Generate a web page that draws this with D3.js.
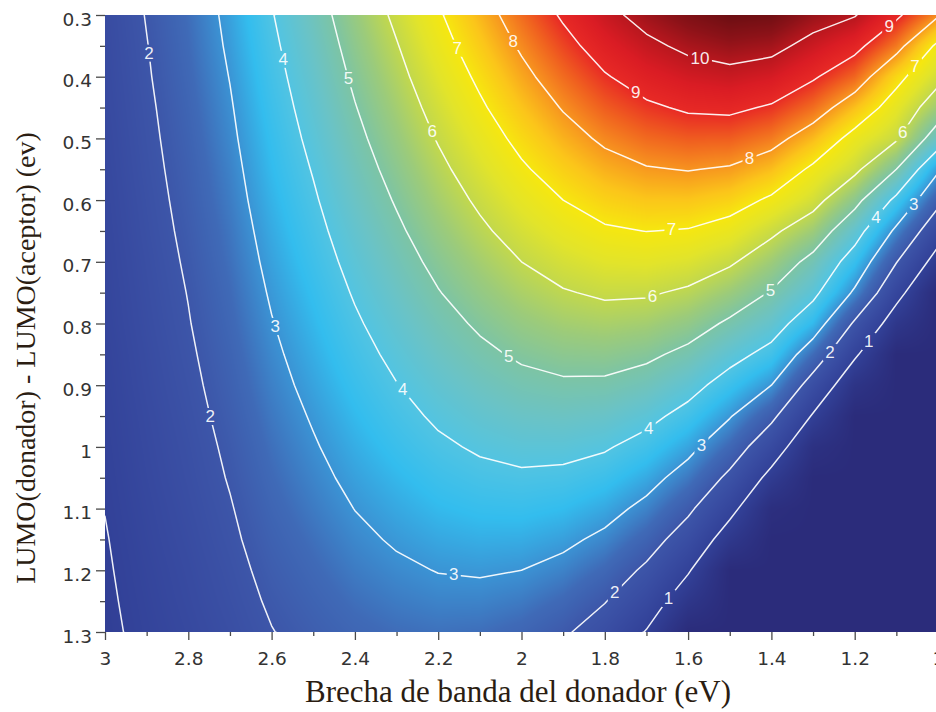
<!DOCTYPE html>
<html>
<head>
<meta charset="utf-8">
<script src="https://cdn.jsdelivr.net/npm/d3@7"></script>
<style>
  html, body { margin: 0; padding: 0; background: #ffffff; overflow: hidden; }
  svg { display: block; }
</style>
</head>
<body>
<svg id="chart" width="936" height="712"></svg>
<script>
// Donor band gap (eV), one grid column each, left to right on the x axis
const bandGap = [3.0, 2.9, 2.8, 2.7, 2.6, 2.5, 2.4, 2.3, 2.2, 2.1, 2.0, 1.9, 1.8, 1.7, 1.6, 1.5, 1.4, 1.3, 1.2, 1.1, 1.0];

// LUMO(donor) - LUMO(acceptor) offset (eV), one grid row each, top to bottom
const lumoOffset = [0.30, 0.35, 0.40, 0.45, 0.50, 0.55, 0.60, 0.65, 0.70, 0.75, 0.80, 0.85, 0.90, 0.95, 1.00, 1.05, 1.10, 1.15, 1.20, 1.25, 1.30];

// Power conversion efficiency (%) : efficiency[row][column]
const efficiency = [
  [1.51, 2.03, 2.54, 3.17, 3.96, 4.66, 5.42, 6.15, 6.91, 7.65, 8.40, 9.10, 9.76, 10.29, 10.70, 10.98, 10.90, 10.37, 10.05, 9.15, 8.08],
  [1.48, 1.98, 2.49, 3.10, 3.86, 4.53, 5.27, 5.96, 6.70, 7.40, 8.10, 8.75, 9.35, 9.82, 10.17, 10.37, 10.24, 9.73, 9.23, 8.28, 6.83],
  [1.45, 1.94, 2.43, 3.02, 3.76, 4.41, 5.12, 5.78, 6.48, 7.14, 7.80, 8.40, 8.94, 9.35, 9.63, 9.76, 9.58, 9.09, 8.46, 7.24, 6.24],
  [1.42, 1.89, 2.37, 2.94, 3.66, 4.29, 4.97, 5.60, 6.26, 6.89, 7.50, 8.05, 8.54, 8.88, 9.10, 9.15, 8.92, 8.39, 7.56, 6.61, 5.52],
  [1.38, 1.85, 2.31, 2.87, 3.56, 4.17, 4.82, 5.42, 6.05, 6.63, 7.20, 7.70, 8.13, 8.42, 8.56, 8.54, 8.26, 7.62, 6.73, 6.10, 4.51],
  [1.35, 1.81, 2.25, 2.79, 3.47, 4.04, 4.67, 5.24, 5.83, 6.38, 6.90, 7.35, 7.72, 7.95, 8.03, 7.93, 7.58, 6.86, 6.18, 5.00, 3.11],
  [1.32, 1.76, 2.20, 2.72, 3.37, 3.92, 4.52, 5.06, 5.62, 6.12, 6.60, 7.00, 7.32, 7.48, 7.49, 7.32, 6.88, 6.28, 5.27, 3.80, 2.22],
  [1.29, 1.72, 2.14, 2.64, 3.27, 3.80, 4.36, 4.88, 5.40, 5.87, 6.30, 6.65, 6.91, 7.01, 6.96, 6.71, 6.15, 5.53, 4.36, 2.84, 1.38],
  [1.26, 1.67, 2.08, 2.57, 3.17, 3.68, 4.21, 4.70, 5.18, 5.61, 6.00, 6.30, 6.50, 6.55, 6.42, 6.10, 5.53, 4.76, 3.60, 2.03, 0.65],
  [1.23, 1.63, 2.02, 2.49, 3.07, 3.55, 4.06, 4.52, 4.97, 5.36, 5.70, 5.95, 6.10, 6.08, 5.89, 5.49, 4.95, 4.20, 2.88, 1.27, 0.00],
  [1.20, 1.59, 1.97, 2.42, 2.97, 3.43, 3.91, 4.34, 4.75, 5.10, 5.40, 5.60, 5.69, 5.61, 5.35, 4.88, 4.38, 3.46, 1.89, 0.56, 0.00],
  [1.16, 1.54, 1.91, 2.34, 2.87, 3.31, 3.76, 4.16, 4.54, 4.85, 5.10, 5.25, 5.28, 5.14, 4.82, 4.27, 3.75, 2.52, 1.11, 0.00, 0.00],
  [1.13, 1.50, 1.85, 2.27, 2.77, 3.19, 3.61, 3.98, 4.32, 4.59, 4.80, 4.90, 4.88, 4.68, 4.28, 3.66, 3.00, 1.64, 0.41, 0.00, 0.00],
  [1.10, 1.45, 1.79, 2.19, 2.67, 3.06, 3.46, 3.80, 4.10, 4.34, 4.50, 4.55, 4.47, 4.21, 3.75, 3.05, 2.17, 0.93, 0.00, 0.00, 0.00],
  [1.07, 1.41, 1.73, 2.11, 2.57, 2.94, 3.31, 3.62, 3.89, 4.08, 4.20, 4.20, 4.07, 3.74, 3.21, 2.44, 1.45, 0.27, 0.00, 0.00, 0.00],
  [1.04, 1.37, 1.68, 2.04, 2.48, 2.82, 3.16, 3.43, 3.67, 3.83, 3.90, 3.85, 3.66, 3.27, 2.68, 1.83, 0.76, 0.00, 0.00, 0.00, 0.00],
  [1.01, 1.32, 1.62, 1.96, 2.38, 2.70, 3.01, 3.25, 3.46, 3.57, 3.60, 3.50, 3.25, 2.81, 2.14, 1.22, 0.15, 0.00, 0.00, 0.00, 0.00],
  [0.97, 1.28, 1.56, 1.89, 2.28, 2.57, 2.86, 3.07, 3.24, 3.32, 3.30, 3.15, 2.85, 2.34, 1.61, 0.61, 0.00, 0.00, 0.00, 0.00, 0.00],
  [0.94, 1.23, 1.50, 1.81, 2.18, 2.45, 2.71, 2.89, 3.02, 3.06, 3.00, 2.80, 2.44, 1.87, 1.07, 0.00, 0.00, 0.00, 0.00, 0.00, 0.00],
  [0.91, 1.19, 1.45, 1.74, 2.08, 2.33, 2.56, 2.71, 2.81, 2.81, 2.70, 2.45, 2.03, 1.42, 0.54, 0.00, 0.00, 0.00, 0.00, 0.00, 0.00],
  [0.88, 1.15, 1.39, 1.66, 1.98, 2.21, 2.41, 2.53, 2.59, 2.55, 2.40, 2.10, 1.63, 0.96, 0.00, 0.00, 0.00, 0.00, 0.00, 0.00, 0.00]
];

// Iso-efficiency levels drawn as white lines
const contourLevels = [1, 2, 3, 4, 5, 6, 7, 8, 9, 10];

// Where each inline contour label sits: [level, band gap, LUMO offset]
const labelAnchors = [
  [2, 2.897, 0.362], [4, 2.580, 0.373], [5, 2.424, 0.405], [6, 2.220, 0.491],
  [7, 2.164, 0.357], [8, 2.023, 0.344], [9, 1.732, 0.433], [10, 1.571, 0.368],
  [9, 1.110, 0.324], [8, 1.451, 0.535], [7, 1.640, 0.648], [7, 1.055, 0.384],
  [6, 1.103, 0.483], [6, 1.684, 0.759], [5, 1.403, 0.746], [4, 1.151, 0.627],
  [3, 1.062, 0.605], [5, 2.035, 0.859], [3, 2.597, 0.806], [4, 2.292, 0.911],
  [2, 2.755, 0.952], [4, 1.691, 0.973], [3, 1.564, 1.000], [2, 1.267, 0.843],
  [1, 1.180, 0.822], [3, 2.164, 1.216], [2, 1.771, 1.240], [1, 1.643, 1.248]
];

const xTickValues = [3, 2.8, 2.6, 2.4, 2.2, 2, 1.8, 1.6, 1.4, 1.2, 1];
const xMinorTicks = [2.9, 2.7, 2.5, 2.3, 2.1, 1.9, 1.7, 1.5, 1.3, 1.1];
const yTickValues = [0.3, 0.4, 0.5, 0.6, 0.7, 0.8, 0.9, 1, 1.1, 1.2, 1.3];
const yMinorTicks = [0.35, 0.45, 0.55, 0.65, 0.75, 0.85, 0.95, 1.05, 1.15, 1.25];

const xTitle = "Brecha de banda del donador (eV)";
const yTitle = "LUMO(donador) - LUMO(aceptor) (ev)";

// ---- layout and styling ----
const W = 936, H = 712;
const plot = { left: 105, top: 15, right: 938, bottom: 632 };

// jet-like colour ramp for the efficiency field
const rampValues = [0, 0.5, 1, 1.5, 2, 2.5, 3, 3.5, 4, 4.5, 5, 5.5, 6, 6.5, 7, 7.5, 8, 8.5, 9, 9.5, 10, 10.5, 11];
const rampColours = ['#2b2c7b', '#2e3689', '#324198', '#384ba1', '#3d56a9', '#3f6ab7', '#3b93d4', '#33bdee',
                     '#52c4e2', '#6ac3c6', '#7dc4a4', '#9ccb7a', '#c2d84c', '#e2e42a', '#f6e70f', '#fbc51a',
                     '#f7951f', '#f0611f', '#e82a25', '#da1c24', '#b8171e', '#8c1218', '#6a0e12'];

const x = d3.scaleLinear().domain([3, 1]).range([plot.left, plot.right]);
const y = d3.scaleLinear().domain([0.3, 1.3]).range([plot.top, plot.bottom]);
const colour = d3.scaleLinear().domain(rampValues).range(rampColours)
  .interpolate(d3.interpolateRgb).clamp(true);

const nx = bandGap.length, ny = lumoOffset.length;
const stepX = bandGap[1] - bandGap[0];
const stepY = lumoOffset[1] - lumoOffset[0];

// bilinear lookup in the efficiency grid
function fieldAt(eg, off) {
  let gi = (eg - bandGap[0]) / stepX;
  let gj = (off - lumoOffset[0]) / stepY;
  gi = Math.max(0, Math.min(nx - 1, gi));
  gj = Math.max(0, Math.min(ny - 1, gj));
  const i0 = Math.min(nx - 2, Math.floor(gi)), j0 = Math.min(ny - 2, Math.floor(gj));
  const fx = gi - i0, fy = gj - j0;
  const a = efficiency[j0][i0], b = efficiency[j0][i0 + 1];
  const c = efficiency[j0 + 1][i0], d = efficiency[j0 + 1][i0 + 1];
  return (a * (1 - fx) + b * fx) * (1 - fy) + (c * (1 - fx) + d * fx) * fy;
}

const svg = d3.select('#chart');
svg.append('rect').attr('width', W).attr('height', H).attr('fill', '#ffffff');

const defs = svg.append('defs');
defs.append('clipPath').attr('id', 'plot-clip')
  .append('rect')
  .attr('x', plot.left).attr('y', plot.top)
  .attr('width', plot.right - plot.left).attr('height', plot.bottom - plot.top);

// ---- colour field painted into a canvas, then placed in the svg ----
const pw = Math.round(plot.right - plot.left), ph = Math.round(plot.bottom - plot.top);
const canvas = document.createElement('canvas');
canvas.width = pw; canvas.height = ph;
const ctx = canvas.getContext('2d');
const img = ctx.createImageData(pw, ph);
for (let py = 0; py < ph; py++) {
  const off = y.invert(plot.top + py + 0.5);
  for (let px = 0; px < pw; px++) {
    const eg = x.invert(plot.left + px + 0.5);
    const c = d3.rgb(colour(fieldAt(eg, off)));
    const k = (py * pw + px) * 4;
    img.data[k] = c.r; img.data[k + 1] = c.g; img.data[k + 2] = c.b; img.data[k + 3] = 255;
  }
}
ctx.putImageData(img, 0, 0);

const plotLayer = svg.append('g').attr('clip-path', 'url(#plot-clip)');
plotLayer.append('image')
  .attr('x', plot.left).attr('y', plot.top)
  .attr('width', pw).attr('height', ph)
  .attr('preserveAspectRatio', 'none')
  .attr('href', canvas.toDataURL());

// ---- iso-efficiency lines ----
const flat = efficiency.flat();
const contours = d3.contours().size([nx, ny]).thresholds(contourLevels)(flat);
const toPx = ([cx, cy]) => [
  x(bandGap[0] + (cx - 0.5) * stepX),
  y(lumoOffset[0] + (cy - 0.5) * stepY)
];
const ringsByLevel = new Map();
contours.forEach(c => {
  const rings = [];
  c.coordinates.forEach(poly => poly.forEach(ring => rings.push(ring.map(toPx))));
  ringsByLevel.set(c.value, rings);
});

// place each label on the nearest point of its contour
function nearestOnRings(rings, p) {
  let best = null, bestD = Infinity;
  rings.forEach(r => {
    for (let i = 0; i < r.length - 1; i++) {
      const a = r[i], b = r[i + 1];
      const dx = b[0] - a[0], dy = b[1] - a[1];
      const L = dx * dx + dy * dy;
      let t = L > 0 ? ((p[0] - a[0]) * dx + (p[1] - a[1]) * dy) / L : 0;
      t = Math.max(0, Math.min(1, t));
      const q = [a[0] + t * dx, a[1] + t * dy];
      const dd = (q[0] - p[0]) ** 2 + (q[1] - p[1]) ** 2;
      if (dd < bestD) { bestD = dd; best = q; }
    }
  });
  return best;
}
const labels = labelAnchors.map(([lvl, eg, off]) => {
  const target = [x(eg), y(off)];
  const q = nearestOnRings(ringsByLevel.get(lvl) || [], target) || target;
  return { lvl, x: q[0], y: q[1] };
});

// gaps in the lines behind each label
const mask = defs.append('mask').attr('id', 'label-gaps')
  .attr('maskUnits', 'userSpaceOnUse')
  .attr('x', 0).attr('y', 0).attr('width', W).attr('height', H);
mask.append('rect').attr('width', W).attr('height', H).attr('fill', '#fff');
labels.forEach(l => {
  const w = String(l.lvl).length * 10 + 4;
  mask.append('rect')
    .attr('x', l.x - w / 2).attr('y', l.y - 8.5)
    .attr('width', w).attr('height', 17).attr('fill', '#000');
});

const line = d3.line();
const lineLayer = plotLayer.append('g').attr('mask', 'url(#label-gaps)');
contours.forEach(c => {
  ringsByLevel.get(c.value).forEach(r => {
    lineLayer.append('path')
      .attr('d', line(r) + 'Z')
      .attr('fill', 'none')
      .attr('stroke', '#ffffff')
      .attr('stroke-opacity', 0.92)
      .attr('stroke-width', 1.5)
      .attr('stroke-linejoin', 'round');
  });
});

plotLayer.append('g').selectAll('text').data(labels).join('text')
  .attr('x', d => d.x).attr('y', d => d.y)
  .attr('text-anchor', 'middle')
  .attr('dominant-baseline', 'central')
  .attr('font-family', '"Liberation Sans", Arial, sans-serif')
  .attr('font-size', 17)
  .attr('fill', '#ffffff')
  .attr('fill-opacity', 0.92)
  .text(d => d.lvl);

// ---- axes ----
const fmt = d => String(+d.toFixed(1));
const tickFont = '"DejaVu Sans", Verdana, sans-serif';

const yAxis = svg.append('g').attr('transform', `translate(${plot.left},0)`)
  .call(d3.axisLeft(y).tickValues(yTickValues).tickSize(9).tickPadding(4).tickFormat(fmt));
const yMinor = svg.append('g').attr('transform', `translate(${plot.left},0)`)
  .call(d3.axisLeft(y).tickValues(yMinorTicks).tickSize(5).tickFormat(''));
const xAxis = svg.append('g').attr('transform', `translate(0,${plot.bottom})`)
  .call(d3.axisBottom(x).tickValues(xTickValues).tickSize(8).tickFormat(fmt));
const xMinor = svg.append('g').attr('transform', `translate(0,${plot.bottom})`)
  .call(d3.axisBottom(x).tickValues(xMinorTicks).tickSize(4).tickFormat(''));

[yAxis, yMinor, xAxis, xMinor].forEach(g => {
  g.select('.domain').remove();
  g.selectAll('.tick line').attr('stroke', '#4a4a4a').attr('stroke-width', 1.3);
});
[yAxis, xAxis].forEach(g => {
  g.selectAll('.tick text')
    .attr('font-family', tickFont)
    .attr('font-size', 18.5)
    .attr('fill', '#333333');
});
yAxis.selectAll('.tick text').attr('dy', '0.55em');
xAxis.selectAll('.tick text').attr('y', 20).attr('dy', '0.71em');

// ---- axis titles ----
svg.append('text')
  .attr('x', 518).attr('y', 702)
  .attr('text-anchor', 'middle')
  .attr('font-family', '"Liberation Serif", "Times New Roman", serif')
  .attr('font-size', 31)
  .attr('fill', '#2b1d12')
  .text(xTitle);

svg.append('text')
  .attr('transform', 'translate(35,358) rotate(-90)')
  .attr('text-anchor', 'middle')
  .attr('font-family', '"Liberation Serif", "Times New Roman", serif')
  .attr('font-size', 28)
  .attr('fill', '#2b1d12')
  .text(yTitle);
</script>
</body>
</html>
